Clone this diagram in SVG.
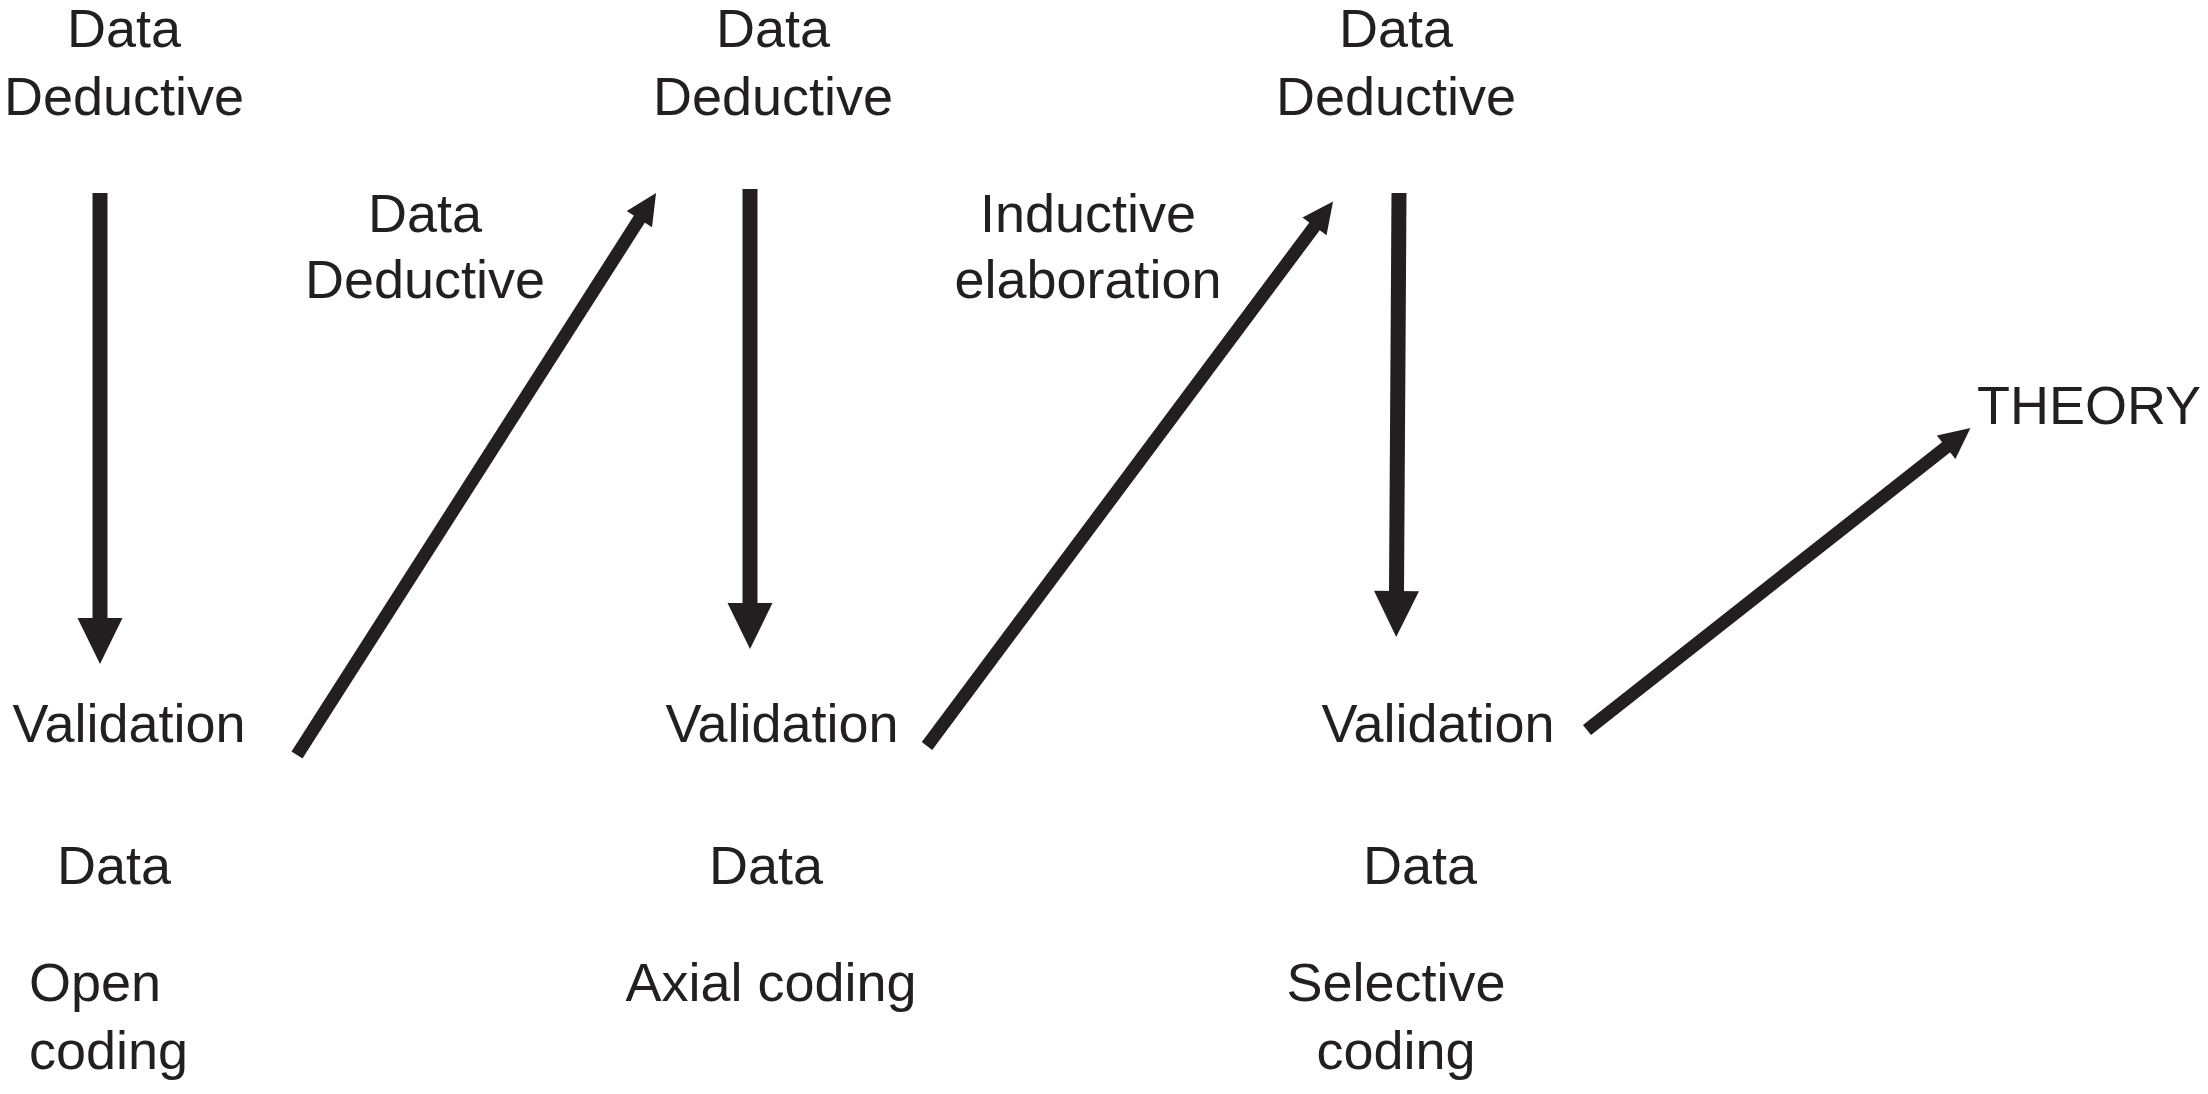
<svg xmlns="http://www.w3.org/2000/svg" width="2208" height="1094" viewBox="0 0 2208 1094">
  <style>
    text { font-family: "Liberation Sans", Arial, Helvetica, sans-serif; font-size: 54px; fill: #231f20; }
    .c { text-anchor: middle; }
    .s { text-anchor: start; }
    .v { stroke: #231f20; stroke-width: 15; fill: none; }
    .d { stroke: #231f20; stroke-width: 13; fill: none; }
  </style>
  <defs>
    <marker id="vhead" markerUnits="userSpaceOnUse" markerWidth="48" markerHeight="46" refX="1" refY="22.5" orient="auto" overflow="visible">
      <path d="M0,0 L46,22.5 L0,45 z" fill="#231f20"/>
    </marker>
    <marker id="dhead" markerUnits="userSpaceOnUse" markerWidth="32" markerHeight="31" refX="1" refY="15" orient="auto" overflow="visible">
      <path d="M0,0 L31,15 L0,30 z" fill="#231f20"/>
    </marker>
  </defs>
  <rect width="2208" height="1094" fill="#ffffff"/>

  <g id="connectors">
    <line class="v" x1="100" y1="193" x2="100" y2="619" marker-end="url(#vhead)"/>
    <line class="d" x1="297" y1="755" x2="639.9" y2="218.3" marker-end="url(#dhead)"/>
    <line class="v" x1="750" y1="189" x2="750" y2="604" marker-end="url(#vhead)"/>
    <line class="d" x1="927" y1="746" x2="1315.1" y2="225.6" marker-end="url(#dhead)"/>
    <line class="v" x1="1399" y1="193" x2="1396.5" y2="592" marker-end="url(#vhead)"/>
    <line class="d" x1="1587" y1="730" x2="1946.9" y2="446.6" marker-end="url(#dhead)"/>
  </g>

  <g id="top1">
    <text class="c" x="124" y="47">Data</text>
    <text class="c" x="124" y="115">Deductive</text>
  </g>
  <g id="top2">
    <text class="c" x="773" y="47">Data</text>
    <text class="c" x="773" y="115">Deductive</text>
  </g>
  <g id="top3">
    <text class="c" x="1396" y="47">Data</text>
    <text class="c" x="1396" y="115">Deductive</text>
  </g>

  <g id="label1">
    <text class="c" x="425" y="232">Data</text>
    <text class="c" x="425" y="298">Deductive</text>
  </g>
  <g id="label2">
    <text class="c" x="1088" y="232">Inductive</text>
    <text class="c" x="1088" y="298">elaboration</text>
  </g>

  <g id="validation1"><text class="c" x="129" y="742">Validation</text></g>
  <g id="validation2"><text class="c" x="782" y="742">Validation</text></g>
  <g id="validation3"><text class="c" x="1438" y="742">Validation</text></g>

  <g id="data1"><text class="c" x="114" y="884">Data</text></g>
  <g id="data2"><text class="c" x="766" y="884">Data</text></g>
  <g id="data3"><text class="c" x="1420" y="884">Data</text></g>

  <g id="open">
    <text class="s" x="29" y="1001">Open</text>
    <text class="s" x="29" y="1069">coding</text>
  </g>
  <g id="axial">
    <text class="c" x="771" y="1001">Axial coding</text>
  </g>
  <g id="selective">
    <text class="c" x="1396" y="1001">Selective</text>
    <text class="c" x="1396" y="1069">coding</text>
  </g>

  <g id="theory">
    <text class="s" x="1977" y="424">THEORY</text>
  </g>
</svg>
